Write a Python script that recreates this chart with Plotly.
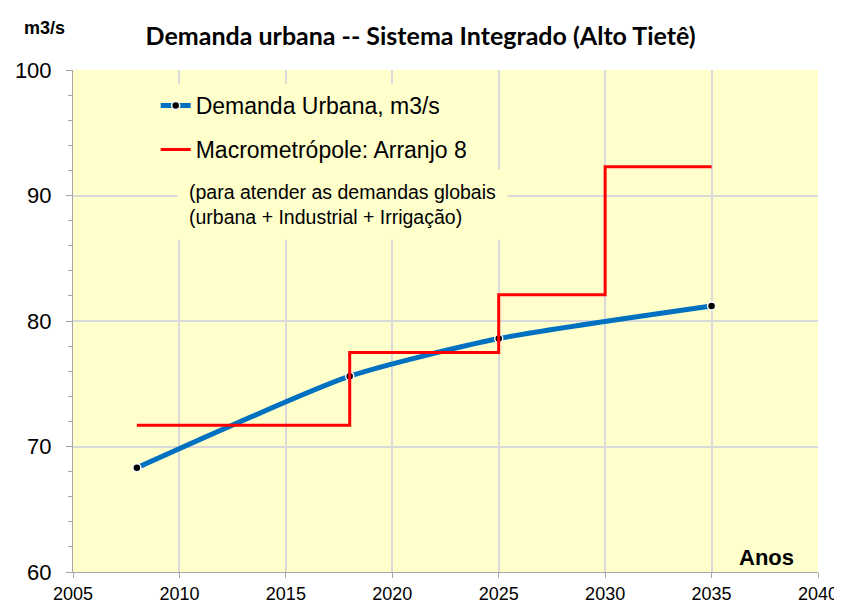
import plotly.graph_objects as go

# Data
anos_demanda = [2008, 2018, 2025, 2035]
demanda_urbana = [68.3, 75.6, 78.6, 81.2]

anos_arranjo = [2008, 2018, 2025, 2030, 2035]
arranjo8 = [71.7, 77.5, 82.1, 92.3, 92.3]

x_ticks = [2005, 2010, 2015, 2020, 2025, 2030, 2035, 2040]
y_ticks = [60, 70, 80, 90, 100]

BG = "#FFFFCC"
GRID = "#D9D9D9"
AXC = "#A6A6A6"
ARIAL = "Liberation Sans, Arial, sans-serif"

fig = go.Figure()
fig.add_trace(go.Scatter(
    x=anos_demanda, y=demanda_urbana, mode="lines+markers",
    name="Demanda Urbana, m3/s", legendgroup="a",
    line=dict(color="#0070C0", width=5, shape="spline", smoothing=0.6),
    marker=dict(color="black", size=8, line=dict(color="white", width=1.5)),
))
fig.add_trace(go.Scatter(
    x=anos_arranjo, y=arranjo8, mode="lines",
    name="Macrometrópole: Arranjo 8", legendgroup="b",
    line=dict(color="#FF0000", width=3, shape="hv"),
))

fig.update_layout(
    width=842, height=605,
    margin=dict(l=65, r=32, t=62, b=41, autoexpand=False),
    paper_bgcolor="white", plot_bgcolor=BG,
    title=dict(text="<b>Demanda urbana -- Sistema Integrado (Alto Tietê)</b>",
               x=0.49, xanchor="center", y=0.954, yanchor="middle",
               font=dict(family="Lato, Open Sans, sans-serif", size=25, color="black")),
    legend=dict(x=0.111, y=0.972, xanchor="left", yanchor="top",
                bgcolor=BG, font=dict(family=ARIAL, size=23, color="black"),
                traceorder="grouped", tracegroupgap=11, itemwidth=30),
    showlegend=True,
    xaxis=dict(range=[2005, 2040], tickvals=x_ticks, ticktext=[str(v) for v in x_ticks],
               showgrid=True, gridcolor=GRID, gridwidth=2, automargin=False,
               showline=True, linecolor=AXC, linewidth=1, mirror=False,
               ticks="outside", ticklen=5, tickcolor=AXC, ticklabelstandoff=0,
               tickfont=dict(family=ARIAL, size=18, color="black"), zeroline=False),
    yaxis=dict(range=[60, 100], tickvals=y_ticks, ticktext=[str(v) for v in y_ticks],
               showgrid=True, gridcolor=GRID, gridwidth=2, automargin=False,
               showline=True, linecolor=AXC, linewidth=1,
               ticks="outside", ticklen=6, tickcolor=AXC, ticklabelstandoff=10,
               minor=dict(dtick=2, ticks="outside", ticklen=4, tickcolor=AXC, showgrid=False),
               tickfont=dict(family=ARIAL, size=22, color="black"), zeroline=False),
)

fig.add_annotation(text="(para atender as demandas globais<br>(urbana + Industrial + Irrigação)",
                   xref="paper", yref="paper", x=0.139, y=0.732, xanchor="left", yanchor="middle",
                   align="left", showarrow=False, bgcolor=BG, borderpad=11,
                   font=dict(family=ARIAL, size=19.5, color="black"))
fig.add_annotation(text="<b>Anos</b>", xref="paper", yref="paper", x=0.97, y=0.0,
                   xanchor="right", yanchor="bottom", showarrow=False,
                   font=dict(family=ARIAL, size=22, color="black"))
fig.add_annotation(text="<b>m3/s</b>", xref="paper", yref="paper", x=-0.068, y=1.084,
                   xanchor="left", yanchor="middle", showarrow=False,
                   font=dict(family=ARIAL, size=18, color="black"))

fig.write_html("out.html")
